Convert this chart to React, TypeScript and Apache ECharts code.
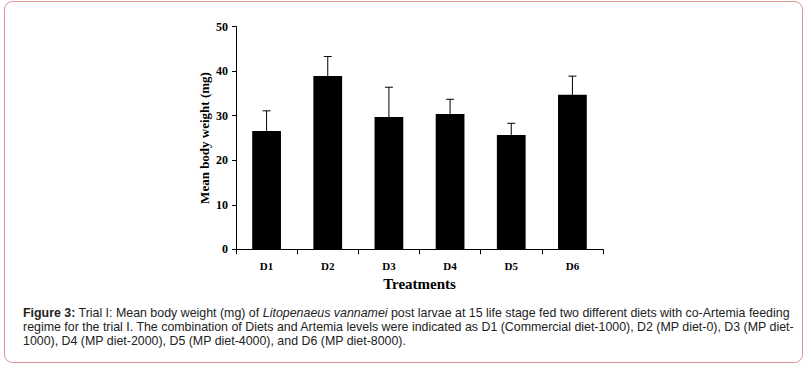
import React, { useEffect, useRef } from "react";
import * as echarts from "echarts";

const categories = ["D1", "D2", "D3", "D4", "D5", "D6"];
const meanWeight = [26.6, 38.9, 29.7, 30.4, 25.7, 34.7];
const errorTop = [31.1, 43.3, 36.4, 33.7, 28.3, 38.9];
const yTicks = { min: 0, max: 50, interval: 10 };

const captionLines = [
  "{b|Figure 3:} Trial I: Mean body weight (mg) of {i|Litopenaeus vannamei} post larvae at 15 life stage fed two different diets with co-Artemia feeding",
  "regime for the trial I. The combination of Diets and Artemia levels were indicated as D1 (Commercial diet-1000), D2 (MP diet-0), D3 (MP diet-",
  "1000), D4 (MP diet-2000), D5 (MP diet-4000), and D6 (MP diet-8000).",
];

const serif = "'Liberation Serif', 'Times New Roman', serif";
const sans = "'Liberation Sans', Arial, sans-serif";
const capSize = 12.4;

export default function App() {
  const ref = useRef<HTMLDivElement>(null);
  useEffect(() => {
    document.body.style.margin = "0";
    const chart = echarts.init(ref.current!, null, { renderer: "svg" });
    const errData = categories.map((_, i) => [i, meanWeight[i], errorTop[i]]);
    const option: any = {
      animation: false,
      backgroundColor: "#ffffff",
      grid: { left: 236, right: 205, top: 26.7, bottom: 123.7 },
      xAxis: {
        type: "category",
        data: categories,
        name: "Treatments",
        nameLocation: "middle",
        nameGap: 25,
        nameTextStyle: { fontFamily: serif, fontWeight: "bold", fontSize: 15, color: "#000" },
        axisLine: { lineStyle: { color: "#000", width: 1 } },
        axisTick: { show: true, length: 5, lineStyle: { color: "#000" }, alignWithLabel: false },
        axisLabel: { fontFamily: serif, fontWeight: "bold", fontSize: 11, color: "#000", margin: 11 },
      },
      yAxis: {
        type: "value",
        min: yTicks.min,
        max: yTicks.max,
        interval: yTicks.interval,
        name: "Mean body weight (mg)",
        nameLocation: "middle",
        nameGap: 25,
        nameTextStyle: { fontFamily: serif, fontWeight: "bold", fontSize: 13, color: "#000" },
        axisLine: { show: true, lineStyle: { color: "#000", width: 1 } },
        axisTick: { show: true, length: 4, lineStyle: { color: "#000" } },
        axisLabel: { fontFamily: serif, fontWeight: "bold", fontSize: 12, color: "#000", margin: 8 },
        splitLine: { show: false },
      },
      series: [
        {
          type: "bar",
          data: meanWeight,
          barWidth: "47%",
          itemStyle: { color: "#000" },
          z: 2,
        },
        {
          type: "custom",
          data: errData,
          z: 3,
          renderItem: (params: any, api: any) => {
            const x = api.value(0);
            const lo = api.coord([x, api.value(1)]);
            const hi = api.coord([x, api.value(2)]);
            const cap = 4;
            return {
              type: "group",
              children: [
                { type: "line", shape: { x1: lo[0], y1: lo[1], x2: hi[0], y2: hi[1] }, style: { stroke: "#000", lineWidth: 1 } },
                { type: "line", shape: { x1: hi[0] - cap, y1: hi[1], x2: hi[0] + cap, y2: hi[1] }, style: { stroke: "#000", lineWidth: 1 } },
              ],
            };
          },
        },
      ],
      graphic: [
        {
          type: "rect",
          shape: { x: 4.5, y: 1.5, width: 798, height: 361, r: 8 },
          style: { fill: "none", stroke: "#dc9296", lineWidth: 1 },
          silent: true,
        },
        ...captionLines.map((t, i) => ({
          type: "text",
          x: 23,
          y: 313 + i * 14,
          style: {
            text: t,
            fontFamily: sans,
            fontSize: capSize,
            fill: "#222",
            verticalAlign: "middle",
            rich: {
              b: { fontFamily: sans, fontSize: capSize, fontWeight: "bold", fill: "#222" },
              i: { fontFamily: sans, fontSize: capSize, fontStyle: "italic", fill: "#222" },
            },
          },
        })),
      ],
    };
    chart.setOption(option);
    return () => chart.dispose();
  }, []);
  return <div ref={ref} style={{ width: 808, height: 373 }} />;
}
